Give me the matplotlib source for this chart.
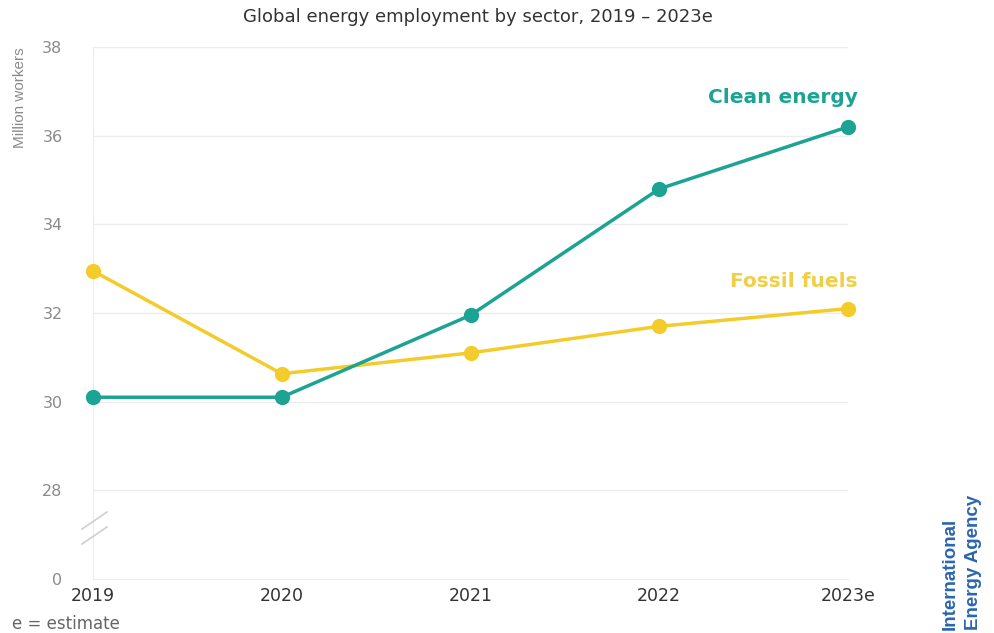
import matplotlib
matplotlib.use("Agg")
import matplotlib.pyplot as plt
from matplotlib.lines import Line2D

years = ["2019", "2020", "2021", "2022", "2023e"]
clean_energy = [30.1, 30.1, 31.95, 34.8, 36.2]
fossil_fuels = [32.95, 30.63, 31.1, 31.7, 32.1]
y_ticks = [26, 28, 30, 32, 34, 36, 38]
y_tick_labels = ["0", "28", "30", "32", "34", "36", "38"]

TEAL = "#1ca393"
YELLOW = "#f3cc2c"
GRID = "#ececec"
TICK = "#8a8a8a"

fig = plt.figure(figsize=(9.94, 6.33), dpi=100)
ax = fig.add_axes([93 / 994, 54 / 633, 755 / 994, 532 / 633])

x = list(range(len(years)))
ax.plot(x, fossil_fuels, color=YELLOW, lw=2.5, marker="o", ms=11,
        markeredgewidth=0, solid_capstyle="round", zorder=3, clip_on=False)
ax.plot(x, clean_energy, color=TEAL, lw=2.5, marker="o", ms=11,
        markeredgewidth=0, solid_capstyle="round", zorder=4, clip_on=False)

ax.set_xlim(0, len(years) - 1)
ax.set_ylim(26, 38)
ax.set_yticks(y_ticks)
ax.set_yticklabels(y_tick_labels)
ax.set_xticks(x)
ax.set_xticklabels(years)

for t in y_ticks[1:]:
    ax.axhline(t, color=GRID, lw=1, zorder=1)
for side in ["top", "right"]:
    ax.spines[side].set_visible(False)
ax.spines["left"].set_color(GRID)
ax.spines["bottom"].set_color(GRID)
ax.tick_params(axis="both", length=0)
ax.tick_params(axis="y", labelsize=11.5, labelcolor=TICK, pad=22)
ax.tick_params(axis="x", labelsize=12.5, labelcolor="#333333", pad=6)

# axis break marks between 0 and 28
for y0 in (527, 542):
    fig.add_artist(Line2D([82 / 994, 107 / 994],
                          [(633 - y0 - 2) / 633, (633 - y0 + 15) / 633],
                          color="#cfcfcf", lw=1.2))

ax.text(len(years) - 1 + 0.05, 36.85, "Clean energy", color=TEAL,
        fontsize=14.5, fontweight="bold", ha="right", va="center")
ax.text(len(years) - 1 + 0.05, 32.72, "Fossil fuels", color="#f0cf48",
        fontsize=14.5, fontweight="bold", ha="right", va="center")

fig.text(478 / 994, 1 - 17 / 633, "Global energy employment by sector, 2019 \u2013 2023e",
         ha="center", va="center", fontsize=13, color="#333333")
fig.text(20 / 994, 1 - 98 / 633, "Million workers", rotation=90, ha="center",
         va="center", fontsize=11, color=TICK, family="Liberation Sans")
fig.text(12 / 994, 1 - 624 / 633, "e = estimate", ha="left", va="center",
         fontsize=12, color="#666666")
fig.text(962 / 994, 1 - 630 / 633, "International\nEnergy Agency", rotation=90,
         ha="center", va="bottom", multialignment="left", fontsize=13.5,
         fontweight="bold", color="#2a66b0", family="Liberation Sans",
         linespacing=1.45)

fig.savefig("out.png", dpi=100, facecolor="white")
